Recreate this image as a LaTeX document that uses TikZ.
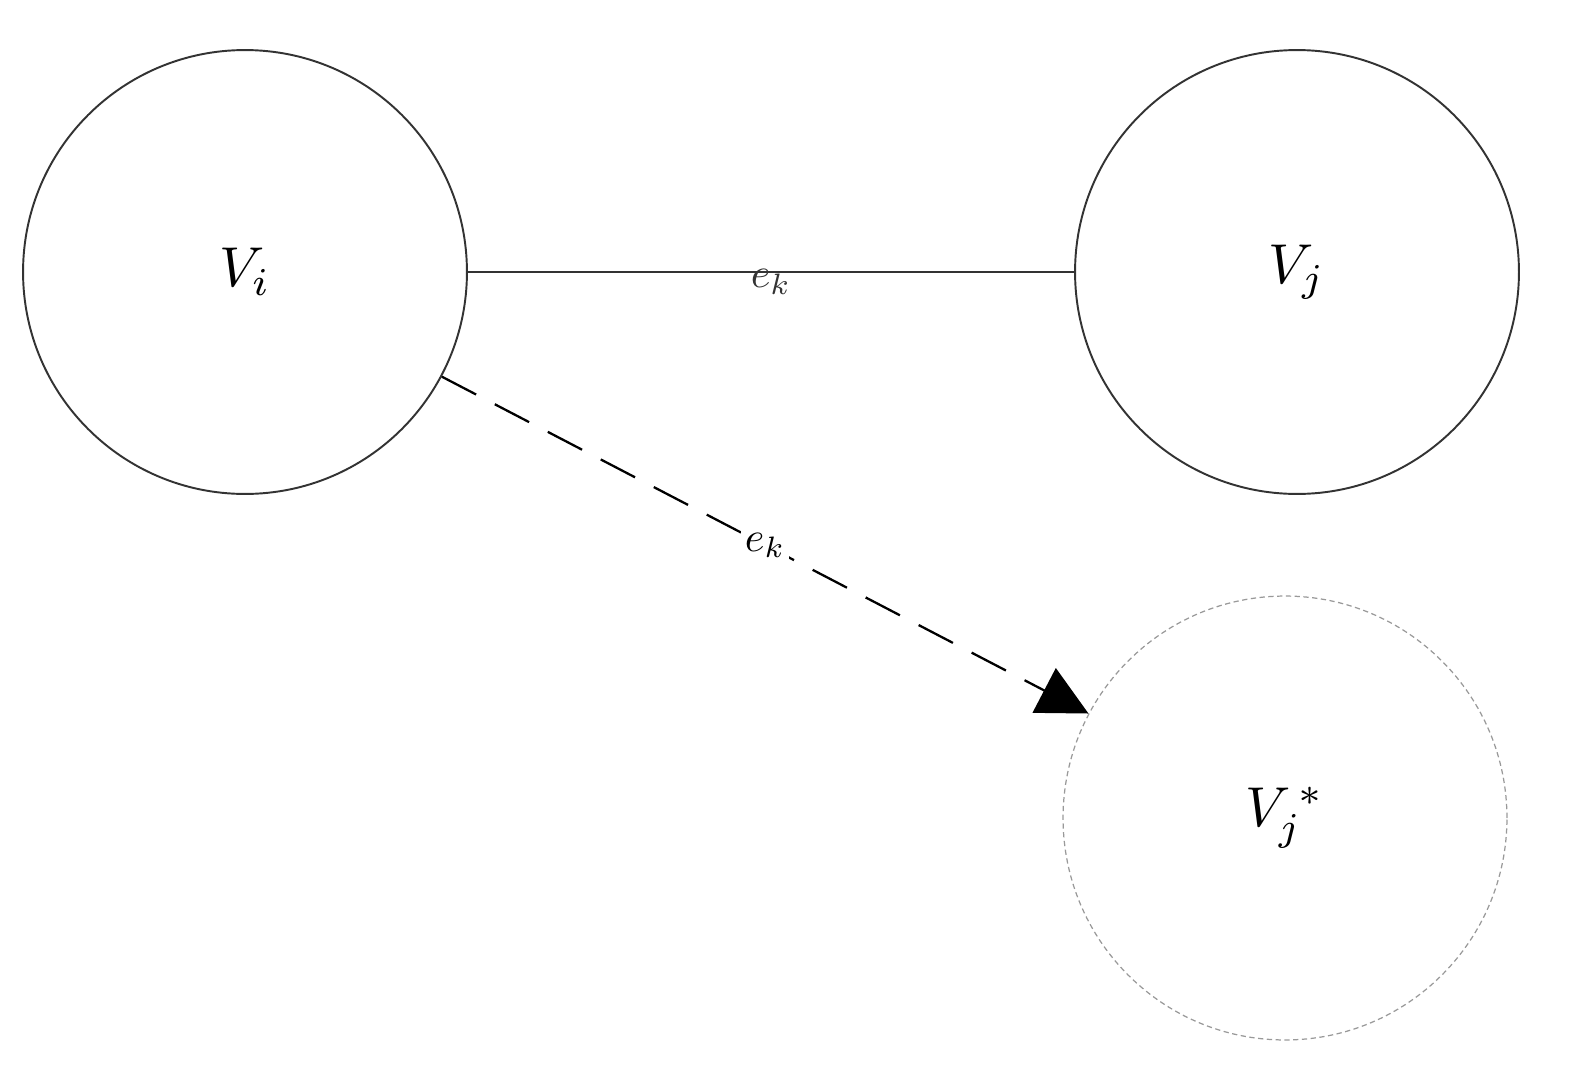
\documentclass[tikz,border=0pt]{standalone}
\usepackage{graphicx}
\usetikzlibrary{arrows.meta}
\begin{document}
\begin{tikzpicture}[x=0.02cm,y=-0.02cm,
  vert/.style={circle,draw=black!80,line width=1.1pt,minimum size=8.88cm,inner sep=0pt},
  ghost/.style={vert,draw=black!40,dash pattern=on 3pt off 2pt,line width=0.7pt},
  lab/.style={fill=white,inner sep=2pt}]
\useasboundingbox (0,0) rectangle (1586,1089);
\node[vert] (vi) at (245,272) {\scalebox{3.2}{$V_i$}};
\node[vert] (vj) at (1297,272) {\scalebox{3.2}{$V_j$}};
\node[ghost] (vs) at (1285,818) {\scalebox{3.2}{$V_j^{\,*}$}};
\draw[black!80,line width=1.1pt] (vi) -- node[lab,pos=0.5,yshift=-0.2cm,fill=none] {\scalebox{2.4}{$e_k$}} (vj);
\draw[black,line width=1.3pt,dash pattern=on 22pt off 12pt,-{Triangle[length=1.0cm,width=1.0cm]}] (vi.-28) -- node[lab,pos=0.5] {\scalebox{2.4}{$e_k$}} (vs.152);
\end{tikzpicture}
\end{document}
